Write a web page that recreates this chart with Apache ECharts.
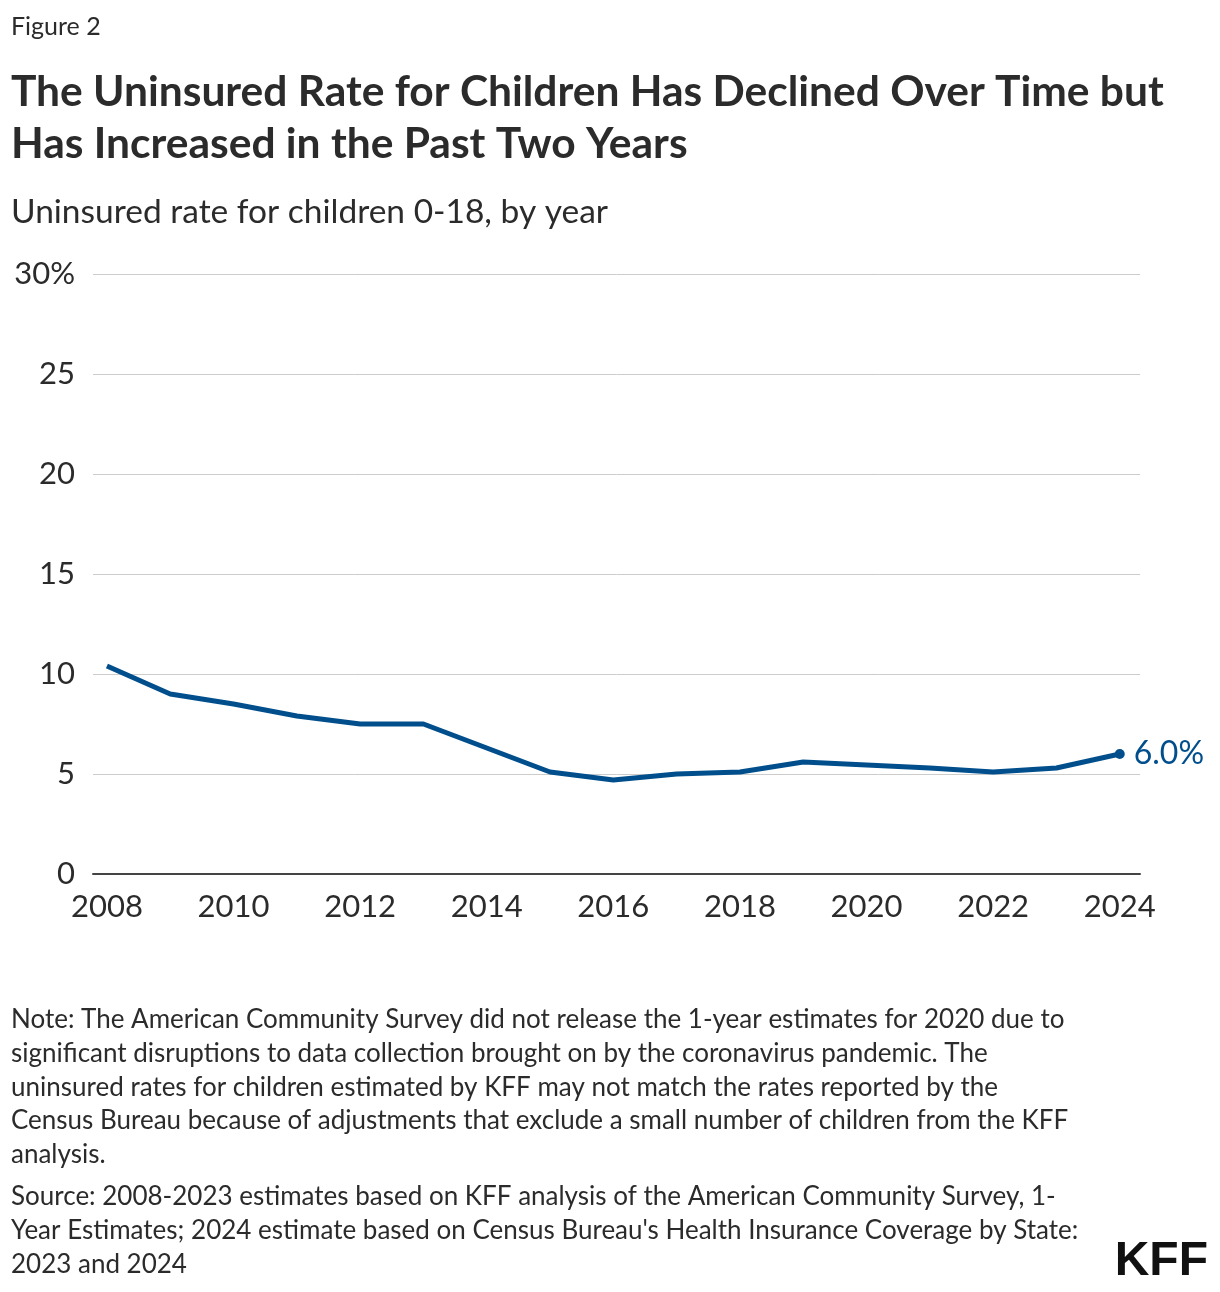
<!DOCTYPE html>
<html>
<head>
<meta charset="utf-8">
<script src="https://cdn.jsdelivr.net/npm/echarts@6/dist/echarts.min.js"></script>
<style>
html,body{margin:0;padding:0;background:#fff;}
#chart{width:1220px;height:1292px;}
</style>
</head>
<body>
<div id="chart"></div>
<script>
const years = [2008, 2009, 2010, 2011, 2012, 2013, 2014, 2015, 2016, 2017, 2018, 2019, 2020, 2021, 2022, 2023, 2024];
const rates = [10.4, 9.0, 8.5, 7.9, 7.5, 7.5, 6.3, 5.1, 4.7, 5.0, 5.1, 5.6, null, 5.3, 5.1, 5.3, 6.0];
const xTickLabels = [2008, 2010, 2012, 2014, 2016, 2018, 2020, 2022, 2024];

const figureLabel = 'Figure 2';
const titleLines = ['The Uninsured Rate for Children Has Declined Over Time but', 'Has Increased in the Past Two Years'];
const subtitle = 'Uninsured rate for children 0-18, by year';
const noteLines = [
  'Note: The American Community Survey did not release the 1-year estimates for 2020 due to',
  'significant disruptions to data collection brought on by the coronavirus pandemic. The',
  'uninsured rates for children estimated by KFF may not match the rates reported by the',
  'Census Bureau because of adjustments that exclude a small number of children from the KFF',
  'analysis.'
];
const sourceLines = [
  'Source: 2008-2023 estimates based on KFF analysis of the American Community Survey, 1-',
  "Year Estimates; 2024 estimate based on Census Bureau's Health Insurance Coverage by State:",
  '2023 and 2024'
];

const FONT = 'Lato, "Source Sans Pro", "Noto Sans", sans-serif';
const BLUE = '#004f8c';
const TEXT = '#2b2b2b';

const seriesData = years.map((y, i) => [y, rates[i]]);
const lastIdx = years.length - 1;

function txt(x, y, text, font, fill, align) {
  return {type:'text', x:x, y:y, style:{text:text, font:font, fill:fill || TEXT, align: align || 'left', verticalAlign:'middle'}};
}
const graphics = [];
graphics.push(txt(11, 27, figureLabel, '25px ' + FONT));
titleLines.forEach((t, i) => graphics.push(txt(11, 92 + i*52, t, 'bold 42.5px ' + FONT)));
graphics.push(txt(11, 212, subtitle, '33.5px ' + FONT));
noteLines.forEach((t, i) => graphics.push(txt(11, 1020 + i*33.7, t, '26px ' + FONT)));
sourceLines.forEach((t, i) => graphics.push(txt(11, 1197 + i*34, t, '26px ' + FONT)));
graphics.push(txt(1208, 1262, 'KFF', 'bold 48px "Liberation Sans Narrow", "Liberation Sans", sans-serif', '#111', 'right'));

const option = {
  animation: false,
  backgroundColor: '#fff',
  graphic: graphics,
  grid: {left: 93, right: 80, top: 274, bottom: 418, containLabel: false},
  xAxis: {
    type: 'value',
    min: 2007.78,
    max: 2024.32,
    axisLine: {show: true, onZero: false, lineStyle: {color: '#444', width: 2}},
    axisTick: {show: false},
    splitLine: {show: false},
    axisLabel: {
      customValues: xTickLabels,
      formatter: v => String(v),
      fontFamily: FONT, fontSize: 31, color: TEXT, margin: 17
    }
  },
  yAxis: {
    type: 'value',
    min: 0, max: 30, interval: 5,
    axisLine: {show: false},
    axisTick: {show: false},
    splitLine: {show: true, lineStyle: {color: '#cccccc', width: 1}},
    axisLabel: {
      formatter: v => (v === 30 ? v + '%' : String(v)),
      fontFamily: FONT, fontSize: 31, color: TEXT, margin: 18
    }
  },
  series: [{
    type: 'line',
    data: seriesData,
    connectNulls: true,
    lineStyle: {color: BLUE, width: 5},
    itemStyle: {color: BLUE},
    symbol: 'circle',
    symbolSize: (val, params) => params.dataIndex === lastIdx ? 10 : 0,
    showSymbol: true,
    label: {
      show: true,
      position: 'right',
      distance: 9,
      formatter: p => p.dataIndex === lastIdx ? p.value[1].toFixed(1) + '%' : '',
      fontFamily: FONT, fontSize: 32, color: BLUE
    },
    z: 3
  }]
};

const chart = echarts.init(document.getElementById('chart'), null, {renderer: 'canvas'});
chart.setOption(option);
</script>
</body>
</html>
